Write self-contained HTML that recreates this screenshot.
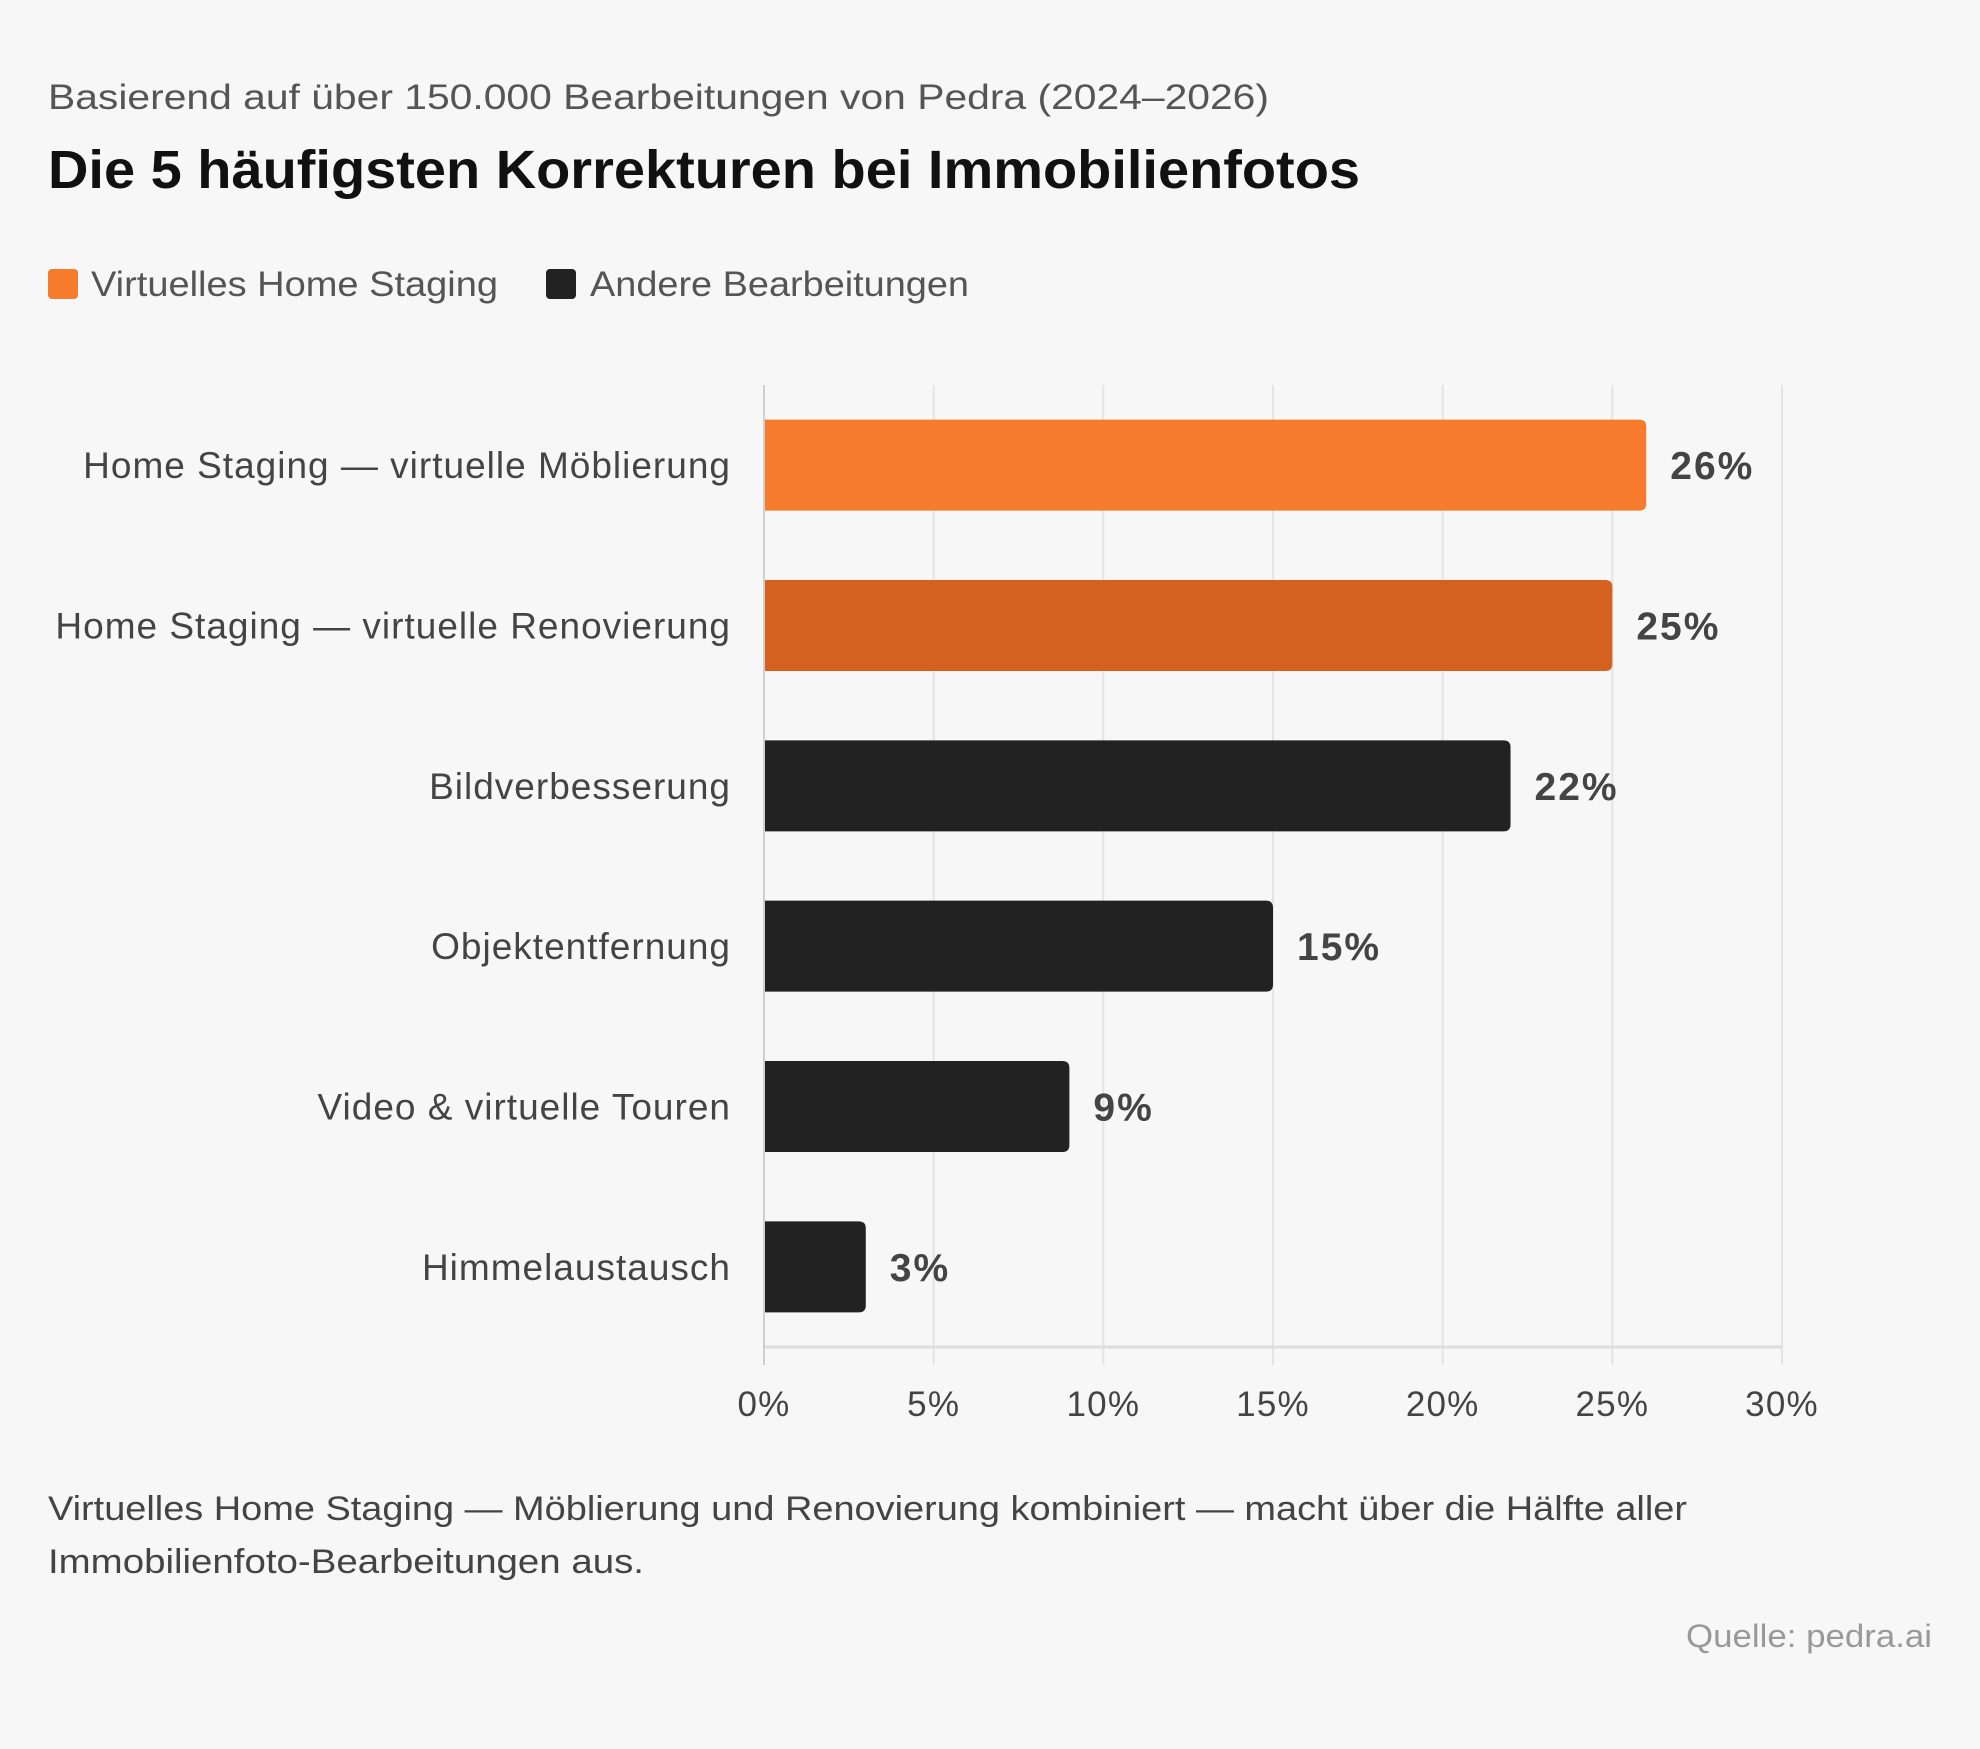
<!DOCTYPE html>
<html><head><meta charset="utf-8"><style>
body{margin:0;background:#f7f7f7;width:1980px;height:1749px;overflow:hidden;font-family:"Liberation Sans",sans-serif;}
svg{display:block}
</style></head><body>
<svg id="chart" width="1980" height="1749" xmlns="http://www.w3.org/2000/svg">
<rect width="1980" height="1749" fill="#f7f7f7"/>
<text x="48" y="109" font-size="35" fill="#555" textLength="1221" lengthAdjust="spacingAndGlyphs">Basierend auf über 150.000 Bearbeitungen von Pedra (2024–2026)</text>
<text x="48" y="188" font-size="54" font-weight="bold" fill="#111" textLength="1312" lengthAdjust="spacingAndGlyphs">Die 5 häufigsten Korrekturen bei Immobilienfotos</text>
<g>
<rect x="48" y="269" width="30" height="30" rx="4" fill="#f77b2c"/>
<text x="91" y="296" font-size="35" fill="#555" textLength="407" lengthAdjust="spacingAndGlyphs">Virtuelles Home Staging</text>
<rect x="546" y="269" width="30" height="30" rx="4" fill="#222"/>
<text x="590" y="296" font-size="35" fill="#555" textLength="379" lengthAdjust="spacingAndGlyphs">Andere Bearbeitungen</text>
</g>
<g id="plot"></g>
<text x="48" y="1520" font-size="34" fill="#444" textLength="1639" lengthAdjust="spacingAndGlyphs">Virtuelles Home Staging — Möblierung und Renovierung kombiniert — macht über die Hälfte aller</text>
<text x="48" y="1573" font-size="34" fill="#444" textLength="596" lengthAdjust="spacingAndGlyphs">Immobilienfoto-Bearbeitungen aus.</text>
<text x="1686" y="1647" font-size="32" fill="#999" textLength="246" lengthAdjust="spacingAndGlyphs">Quelle: pedra.ai</text>
</svg>
<script>
const categories=["Home Staging — virtuelle Möblierung","Home Staging — virtuelle Renovierung","Bildverbesserung","Objektentfernung","Video & virtuelle Touren","Himmelaustausch"];
const values=[26,25,22,15,9,3];
const colors=["#f77b2c","#d4611f","#222222","#222222","#222222","#222222"];
const ticks=[0,5,10,15,20,25,30];
const tickLabels=["0%","5%","10%","15%","20%","25%","30%"];
const NS="http://www.w3.org/2000/svg";
const g=document.getElementById('plot');
const X0=764,X1=1782,Y0=385,Y1=1347,XMAX=30;
const x=v=>X0+(v/XMAX)*(X1-X0);
const band=(Y1-Y0)/categories.length;
const y=i=>Y0+band*i+band/2;
function mk(t,a){const e=document.createElementNS(NS,t);for(const k in a)e.setAttribute(k,a[k]);g.appendChild(e);return e;}
ticks.forEach((t,i)=>{
 const l=mk('line',{x1:x(t),x2:x(t),y1:Y0,y2:Y1+18,stroke:i===0?'#cfcfcf':'#e4e4e4','stroke-width':2});
 
 
 const tx=mk('text',{x:x(t),y:1416,'font-size':35,fill:'#444','text-anchor':'middle','letter-spacing':1.2});
 tx.textContent=tickLabels[i];
 
 
});
const ax=mk('line',{x1:X0,x2:X1,y1:Y1,y2:Y1,stroke:'#ddd','stroke-width':3});


const bh=91,r=7;
categories.forEach((c,i)=>{
 const cy=y(i),w=x(values[i])-X0,top=cy-bh/2;
 const d=`M${X0},${top} H${X0+w-r} Q${X0+w},${top} ${X0+w},${top+r} V${top+bh-r} Q${X0+w},${top+bh} ${X0+w-r},${top+bh} H${X0} Z`;
 const b=mk('path',{d:d,fill:colors[i]});
 
 
 const lb=mk('text',{x:731,y:cy+13,'font-size':37,fill:'#444','text-anchor':'end','letter-spacing':1});
 lb.textContent=c;
 
 
 const vl=mk('text',{x:x(values[i])+24,y:cy+14,'font-size':39,'font-weight':'bold',fill:'#444','letter-spacing':2});
 vl.textContent=values[i]+'%';
 
 
});
const ax2=mk('line',{x1:X0,x2:X0,y1:Y0,y2:Y1+18,stroke:'#cfcfcf','stroke-width':2});


</script>
</body></html>
